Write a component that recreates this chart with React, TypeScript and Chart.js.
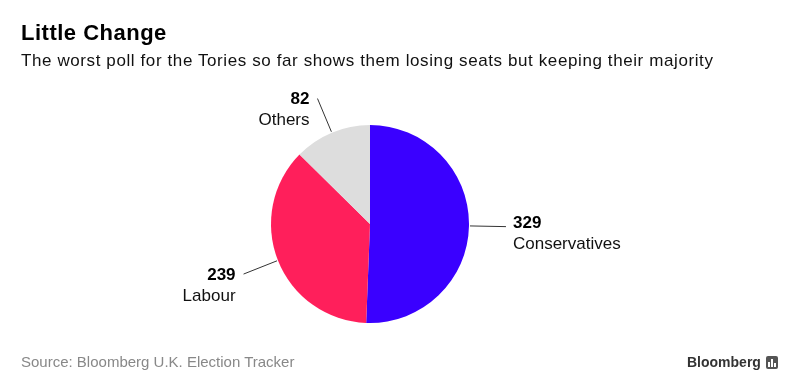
import React, { useEffect, useRef } from "react";
import { Chart, registerables } from "chart.js";

Chart.register(...registerables);

const categories = ["Conservatives", "Labour", "Others"];
const seats = [329, 239, 82];
const colors = ["#3a00ff", "#ff1f5b", "#dddddd"];

const FONT = "'Liberation Sans', Arial, Helvetica, sans-serif";

const sliceLabels = {
  id: "sliceLabels",
  afterDatasetsDraw(chart: any) {
    const ctx = chart.ctx;
    const meta = chart.getDatasetMeta(0);
    const ds = chart.data.datasets[0];
    meta.data.forEach((arc: any, i: number) => {
      const p = arc.getProps(["x", "y", "startAngle", "endAngle", "outerRadius"], true);
      const mid = (p.startAngle + p.endAngle) / 2;
      const c = Math.cos(mid);
      const s = Math.sin(mid);
      const x1 = p.x + c * (p.outerRadius + 1);
      const y1 = p.y + s * (p.outerRadius + 1);
      const x2 = p.x + c * (p.outerRadius + 37);
      const y2 = p.y + s * (p.outerRadius + 37);
      ctx.save();
      ctx.strokeStyle = "#333333";
      ctx.lineWidth = 1;
      ctx.beginPath();
      ctx.moveTo(x1, y1);
      ctx.lineTo(x2, y2);
      ctx.stroke();
      const right = c >= 0;
      const tx = right ? x2 + 7 : x2 - 8;
      const vy = right ? y2 - 3 : y2 + 1;
      ctx.textAlign = right ? "left" : "right";
      ctx.textBaseline = "middle";
      ctx.fillStyle = "#000000";
      ctx.font = `bold 17px ${FONT}`;
      ctx.fillText(String(ds.data[i]), tx, vy);
      ctx.fillStyle = "#111111";
      ctx.font = `17px ${FONT}`;
      ctx.fillText(chart.data.labels[i], tx, vy + 21);
      ctx.restore();
    });
  },
};

export default function App() {
  const ref = useRef<HTMLCanvasElement | null>(null);
  useEffect(() => {
    if (!ref.current) return;
    const chart = new Chart(ref.current, {
      type: "pie",
      data: {
        labels: categories,
        datasets: [
          {
            data: seats,
            backgroundColor: colors,
            borderWidth: 0,
          },
        ],
      },
      options: {
        responsive: false,
        animation: false,
        devicePixelRatio: 1,
        layout: { padding: { top: 125, bottom: 67, left: 271, right: 331 } },
        plugins: {
          legend: { display: false },
          tooltip: { enabled: false },
          title: { display: false },
        },
      },
      plugins: [sliceLabels],
    });
    return () => chart.destroy();
  }, []);

  return (
    <div
      style={{
        position: "fixed",
        left: 0,
        top: 0,
        width: 800,
        height: 390,
        background: "#ffffff",
        fontFamily: FONT,
        overflow: "hidden",
      }}
    >
      <canvas ref={ref} width={800} height={390} style={{ position: "absolute", left: 0, top: 0, width: 800, height: 390 }} />
      <div style={{ position: "absolute", left: 21, top: 20, fontSize: 22, letterSpacing: "0.5px", fontWeight: "bold", color: "#000", lineHeight: "26px" }}>
        Little Change
      </div>
      <div style={{ position: "absolute", left: 21, top: 50, fontSize: 17, letterSpacing: "0.6px", color: "#111", lineHeight: "22px", whiteSpace: "nowrap" }}>
        The worst poll for the Tories so far shows them losing seats but keeping their majority
      </div>
      <div style={{ position: "absolute", left: 21, top: 352, fontSize: 15, color: "#888", lineHeight: "20px", whiteSpace: "nowrap" }}>
        Source: Bloomberg U.K. Election Tracker
      </div>
      <div style={{ position: "absolute", left: 687, top: 352, fontSize: 14, fontWeight: "bold", color: "#333", lineHeight: "20px", display: "flex", alignItems: "center" }}>
        <span>Bloomberg</span>
        <span style={{ display: "inline-block", width: 12, height: 13, background: "#555", marginLeft: 5, borderRadius: 2, position: "relative" }}>
          <span style={{ position: "absolute", left: 2, bottom: 2, width: 2, height: 5, background: "#fff" }} />
          <span style={{ position: "absolute", left: 5, bottom: 2, width: 2, height: 8, background: "#fff" }} />
          <span style={{ position: "absolute", left: 8, bottom: 2, width: 2, height: 4, background: "#fff" }} />
        </span>
      </div>
    </div>
  );
}
